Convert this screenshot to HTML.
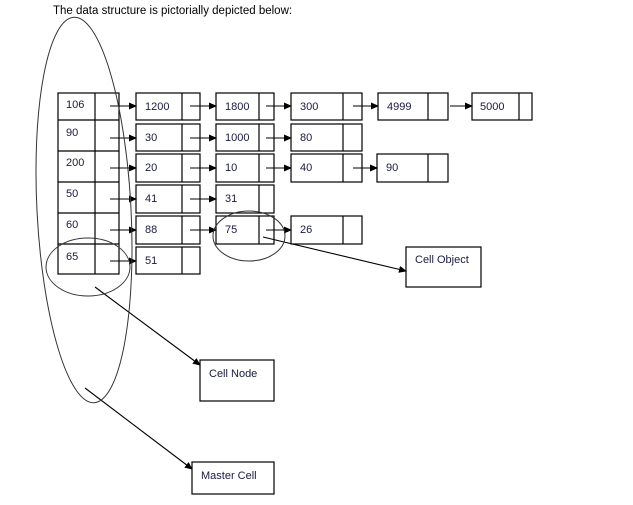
<!DOCTYPE html>
<html><head><style>
html,body{margin:0;padding:0;background:#fff;}
svg{display:block}
text{font-family:"Liberation Sans",sans-serif;font-size:11px;fill:#1a1a40}
</style></head><body>
<svg width="633" height="505" viewBox="0 0 633 505">
<defs><marker id="a" markerWidth="8" markerHeight="8" refX="7" refY="4" orient="auto" markerUnits="userSpaceOnUse"><path d="M0,0.5 L8,4 L0,7.5z" fill="#000"/></marker></defs>
<text x="53" y="14" style="font-size:11.5px;fill:#000">The data structure is pictorially depicted below:</text>
<g fill="none" stroke="#000" stroke-width="1.2">
<!-- master column -->
<rect x="58" y="93" width="61" height="181"/>
<line x1="95" y1="93" x2="95" y2="274"/>
<line x1="58" y1="120" x2="119" y2="120"/>
<line x1="58" y1="151" x2="119" y2="151"/>
<line x1="58" y1="182" x2="119" y2="182"/>
<line x1="58" y1="213" x2="119" y2="213"/>
<line x1="58" y1="244" x2="119" y2="244"/>
<!-- col2 -->
<rect x="136" y="93" width="64" height="27"/><line x1="182" y1="93" x2="182" y2="120"/>
<rect x="136" y="124" width="64" height="27"/><line x1="182" y1="124" x2="182" y2="151"/>
<rect x="136" y="154" width="64" height="28"/><line x1="182" y1="154" x2="182" y2="182"/>
<rect x="136" y="185" width="64" height="28"/><line x1="182" y1="185" x2="182" y2="213"/>
<rect x="136" y="216" width="64" height="28"/><line x1="182" y1="216" x2="182" y2="244"/>
<rect x="136" y="247" width="64" height="27"/><line x1="182" y1="247" x2="182" y2="274"/>
<!-- col3 -->
<rect x="216" y="93" width="58" height="27"/><line x1="259" y1="93" x2="259" y2="120"/>
<rect x="216" y="124" width="58" height="27"/><line x1="259" y1="124" x2="259" y2="151"/>
<rect x="216" y="154" width="58" height="28"/><line x1="259" y1="154" x2="259" y2="182"/>
<rect x="216" y="185" width="58" height="28"/><line x1="259" y1="185" x2="259" y2="213"/>
<rect x="216" y="216" width="58" height="28"/><line x1="259" y1="216" x2="259" y2="244"/>
<!-- col4 -->
<rect x="291" y="93" width="71" height="27"/><line x1="343" y1="93" x2="343" y2="120"/>
<rect x="291" y="124" width="71" height="27"/><line x1="343" y1="124" x2="343" y2="151"/>
<rect x="291" y="154" width="71" height="28"/><line x1="343" y1="154" x2="343" y2="182"/>
<rect x="291" y="216" width="71" height="28"/><line x1="343" y1="216" x2="343" y2="244"/>
<!-- col5/6 -->
<rect x="378" y="93" width="70" height="27"/><line x1="428" y1="93" x2="428" y2="120"/>
<rect x="472" y="93" width="60" height="27"/><line x1="519" y1="93" x2="519" y2="120"/>
<rect x="377" y="154" width="71" height="28"/><line x1="428" y1="154" x2="428" y2="182"/>
<!-- label boxes -->
<rect x="406" y="247" width="75" height="40"/>
<rect x="200" y="360" width="74" height="41"/>
<rect x="192" y="462" width="82" height="32"/>
</g>
<g stroke="#000" stroke-width="1.1" marker-end="url(#a)">
<line x1="110" y1="106" x2="136" y2="106"/>
<line x1="110" y1="138" x2="136" y2="138"/>
<line x1="110" y1="168" x2="136" y2="168"/>
<line x1="110" y1="199" x2="136" y2="199"/>
<line x1="110" y1="230" x2="136" y2="230"/>
<line x1="110" y1="261" x2="136" y2="261"/>
<line x1="190" y1="106" x2="216" y2="106"/>
<line x1="190" y1="138" x2="216" y2="138"/>
<line x1="190" y1="168" x2="216" y2="168"/>
<line x1="190" y1="199" x2="216" y2="199"/>
<line x1="190" y1="230" x2="216" y2="230"/>
<line x1="266" y1="106" x2="291" y2="106"/>
<line x1="266" y1="138" x2="291" y2="138"/>
<line x1="266" y1="168" x2="291" y2="168"/>
<line x1="266" y1="230" x2="291" y2="230"/>
<line x1="353" y1="106" x2="378" y2="106"/>
<line x1="353" y1="168" x2="377" y2="168"/>
<line x1="450" y1="106" x2="472" y2="106"/>
<line x1="263" y1="237" x2="406" y2="271"/>
<line x1="95" y1="287" x2="200" y2="365"/>
<line x1="85" y1="388" x2="192" y2="469"/>
</g>
<g fill="none" stroke="#333" stroke-width="1">
<ellipse cx="84" cy="210" rx="47" ry="193" transform="rotate(-3 84 210)"/>
<ellipse cx="88" cy="267" rx="42" ry="29"/>
<ellipse cx="249" cy="236" rx="36" ry="25"/>
</g>
<g>
<text x="66" y="108">106</text><text x="66" y="136">90</text><text x="66" y="166">200</text>
<text x="66" y="197">50</text><text x="66" y="228">60</text><text x="66" y="260">65</text>
<text x="145" y="110">1200</text><text x="145" y="141">30</text><text x="145" y="171">20</text>
<text x="145" y="202">41</text><text x="145" y="233">88</text><text x="145" y="264">51</text>
<text x="225" y="110">1800</text><text x="225" y="141">1000</text><text x="225" y="171">10</text>
<text x="225" y="202">31</text><text x="225" y="233">75</text>
<text x="300" y="110">300</text><text x="300" y="141">80</text><text x="300" y="171">40</text><text x="300" y="233">26</text>
<text x="387" y="110">4999</text><text x="480" y="110">5000</text><text x="386" y="171">90</text>
<text x="415" y="263">Cell Object</text>
<text x="209" y="377">Cell Node</text>
<text x="201" y="479">Master Cell</text>
</g>
</svg>
</body></html>
